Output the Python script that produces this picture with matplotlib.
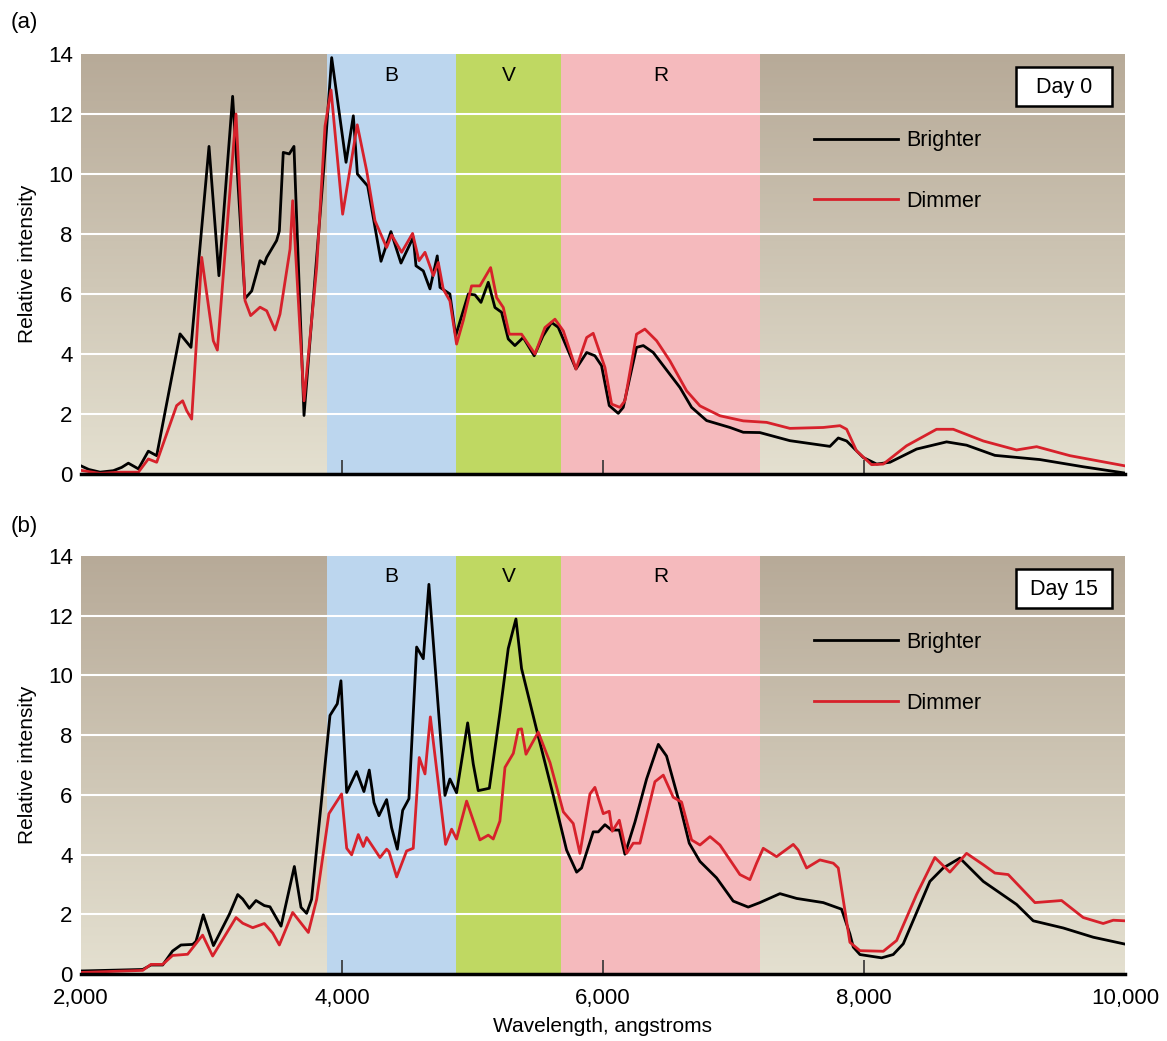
import numpy as np
import matplotlib
matplotlib.use("Agg")
import matplotlib.pyplot as plt
from matplotlib.colors import LinearSegmentedColormap
from matplotlib.patches import Rectangle

plt.rcParams['font.family'] = ['Liberation Sans', 'DejaVu Sans']

# photometric bands (angstroms)
bands = ["B", "V", "R"]
band_edges = [(3885, 4874), (4874, 5678), (5678, 7203)]
band_colors = ["#bcd6ee", "#bfd862", "#f5babd"]

# Day 0 spectra (wavelength, relative intensity)
day0_bright = [
    (2000, 0.27), (2060, 0.15), (2146, 0.06), (2248, 0.11), (2312, 0.22), (2363, 0.36),
    (2440, 0.17), (2516, 0.76), (2580, 0.61), (2759, 4.67), (2843, 4.22), (2981, 10.92),
    (3057, 6.61), (3162, 12.59), (3257, 5.85), (3308, 6.1), (3372, 7.11), (3405, 7.0),
    (3423, 7.22), (3499, 7.78), (3520, 8.1), (3550, 10.72), (3596, 10.67), (3632, 10.92),
    (3709, 1.95), (3857, 10.0), (3921, 13.88), (4031, 10.39), (4087, 11.94), (4118, 10.0),
    (4197, 9.6), (4299, 7.09), (4375, 8.08), (4452, 7.03), (4546, 7.89), (4567, 6.94),
    (4623, 6.77), (4674, 6.17), (4730, 7.27), (4751, 6.22), (4827, 6.0), (4871, 4.61),
    (4968, 6.0), (5019, 5.97), (5065, 5.72), (5121, 6.39), (5172, 5.55), (5223, 5.39),
    (5274, 4.5), (5325, 4.28), (5389, 4.55), (5473, 3.94), (5540, 4.6), (5606, 5.05),
    (5657, 4.89), (5793, 3.5), (5875, 4.05), (5938, 3.94), (5989, 3.61), (6048, 2.28),
    (6117, 2.02), (6155, 2.22), (6257, 4.22), (6309, 4.28), (6385, 4.05), (6590, 2.88),
    (6679, 2.22), (6794, 1.78), (6973, 1.55), (7075, 1.39), (7202, 1.38), (7432, 1.11),
    (7739, 0.92), (7803, 1.2), (7867, 1.1), (7994, 0.55), (8097, 0.33), (8199, 0.39),
    (8403, 0.83), (8633, 1.07), (8786, 0.96), (9003, 0.62), (9348, 0.48), (9680, 0.24),
    (10000, 0.03),
]
day0_dim = [
    (2000, 0.12), (2146, 0.02), (2300, 0.06), (2440, 0.06), (2516, 0.5), (2580, 0.39),
    (2733, 2.28), (2779, 2.44), (2810, 2.11), (2848, 1.83), (2925, 7.22), (3014, 4.44),
    (3045, 4.13), (3188, 12.0), (3257, 5.78), (3300, 5.28), (3372, 5.56), (3423, 5.44),
    (3487, 4.8), (3525, 5.33), (3602, 7.5), (3622, 9.11), (3709, 2.44), (3806, 6.89),
    (3870, 11.6), (3916, 12.8), (4005, 8.66), (4117, 11.64), (4189, 10.11), (4253, 8.44),
    (4342, 7.55), (4380, 7.97), (4457, 7.39), (4541, 8.02), (4590, 7.11), (4636, 7.39),
    (4700, 6.61), (4738, 7.05), (4776, 6.16), (4827, 5.77), (4878, 4.33), (4929, 5.11),
    (4993, 6.27), (5057, 6.27), (5139, 6.88), (5185, 5.88), (5236, 5.55), (5282, 4.66),
    (5376, 4.66), (5479, 4.0), (5555, 4.88), (5632, 5.16), (5696, 4.77), (5793, 3.5),
    (5875, 4.55), (5925, 4.69), (6015, 3.55), (6066, 2.33), (6130, 2.22), (6168, 2.44),
    (6257, 4.66), (6321, 4.83), (6411, 4.44), (6513, 3.77), (6641, 2.77), (6743, 2.27),
    (6896, 1.94), (7075, 1.77), (7254, 1.72), (7432, 1.52), (7688, 1.55), (7816, 1.61),
    (7867, 1.49), (7943, 0.77), (8058, 0.31), (8148, 0.33), (8326, 0.94), (8556, 1.49),
    (8684, 1.49), (8914, 1.1), (9169, 0.8), (9323, 0.91), (9578, 0.61), (10000, 0.27),
]

# Day 15 spectra
day15_bright = [
    (2000, 0.1), (2473, 0.15), (2536, 0.3), (2626, 0.3), (2702, 0.77), (2766, 0.97),
    (2856, 0.99), (2881, 1.09), (2937, 1.98), (3015, 0.95), (3137, 2.0), (3201, 2.66),
    (3239, 2.51), (3290, 2.2), (3341, 2.46), (3405, 2.29), (3448, 2.25), (3533, 1.6),
    (3635, 3.6), (3686, 2.23), (3729, 2.03), (3767, 2.5), (3908, 8.66), (3964, 9.05),
    (3992, 9.82), (4036, 6.08), (4112, 6.78), (4168, 6.11), (4209, 6.83), (4245, 5.74),
    (4283, 5.3), (4342, 5.84), (4380, 4.9), (4424, 4.18), (4465, 5.48), (4513, 5.87),
    (4572, 10.95), (4623, 10.56), (4666, 13.05), (4789, 5.98), (4827, 6.53), (4878, 6.07),
    (4963, 8.41), (5006, 7.03), (5044, 6.14), (5129, 6.22), (5210, 8.74), (5274, 10.9),
    (5333, 11.89), (5376, 10.23), (5491, 8.19), (5619, 5.98), (5721, 4.15), (5798, 3.41),
    (5836, 3.55), (5925, 4.76), (5964, 4.76), (6015, 5.0), (6066, 4.82), (6125, 4.82),
    (6168, 4.01), (6245, 5.09), (6334, 6.53), (6424, 7.69), (6487, 7.3), (6577, 5.87),
    (6661, 4.38), (6743, 3.77), (6870, 3.22), (6998, 2.44), (7113, 2.24), (7202, 2.39),
    (7356, 2.69), (7484, 2.53), (7688, 2.39), (7828, 2.17), (7892, 1.34), (7918, 0.9),
    (7969, 0.65), (8135, 0.54), (8224, 0.65), (8301, 1.01), (8505, 3.1), (8607, 3.55),
    (8735, 3.88), (8914, 3.1), (9169, 2.33), (9297, 1.78), (9527, 1.54), (9757, 1.23),
    (10000, 1.0),
]
day15_dim = [
    (2000, 0.05), (2473, 0.12), (2536, 0.32), (2626, 0.32), (2702, 0.62), (2817, 0.66),
    (2932, 1.3), (3009, 0.6), (3188, 1.89), (3239, 1.7), (3316, 1.55), (3405, 1.69),
    (3469, 1.37), (3520, 0.97), (3622, 2.06), (3742, 1.39), (3806, 2.5), (3900, 5.37),
    (3997, 6.03), (4036, 4.21), (4074, 3.99), (4125, 4.67), (4163, 4.27), (4189, 4.57),
    (4291, 3.9), (4342, 4.18), (4360, 4.1), (4419, 3.25), (4495, 4.12), (4546, 4.21),
    (4592, 7.25), (4636, 6.7), (4677, 8.61), (4794, 4.34), (4840, 4.85), (4878, 4.52),
    (4955, 5.79), (5057, 4.49), (5121, 4.65), (5159, 4.52), (5210, 5.12), (5249, 6.92),
    (5313, 7.39), (5351, 8.19), (5376, 8.21), (5410, 7.36), (5504, 8.1), (5594, 7.08),
    (5696, 5.43), (5772, 5.04), (5823, 4.04), (5900, 6.03), (5938, 6.25), (6002, 5.37),
    (6048, 5.45), (6071, 4.78), (6125, 5.15), (6181, 4.04), (6232, 4.38), (6283, 4.38),
    (6398, 6.44), (6462, 6.66), (6538, 5.92), (6602, 5.76), (6679, 4.49), (6743, 4.32),
    (6820, 4.6), (6896, 4.32), (7049, 3.33), (7126, 3.16), (7177, 3.71), (7228, 4.21),
    (7330, 3.93), (7458, 4.34), (7496, 4.15), (7560, 3.55), (7662, 3.82), (7765, 3.71),
    (7803, 3.55), (7892, 1.06), (7969, 0.78), (8148, 0.76), (8250, 1.12), (8403, 2.66),
    (8543, 3.9), (8658, 3.41), (8786, 4.04), (8914, 3.66), (9003, 3.38), (9105, 3.33),
    (9310, 2.39), (9514, 2.46), (9680, 1.89), (9833, 1.69), (9910, 1.8), (10000, 1.78),
]

panels = [("(a)", "Day 0", day0_bright, day0_dim),
          ("(b)", "Day 15", day15_bright, day15_dim)]
xticks = [2000, 4000, 6000, 8000, 10000]
yticks = [0, 2, 4, 6, 8, 10, 12, 14]

bg = LinearSegmentedColormap.from_list("bg", ["#e4e0d0", "#b7aa98"])

fig = plt.figure(figsize=(11.67, 10.41), dpi=100)
axes = [fig.add_axes([0.0694, 0.5447, 0.8946, 0.4034]),
        fig.add_axes([0.0694, 0.0644, 0.8946, 0.4015])]

for ax, (tag, day, bright, dim) in zip(axes, panels):
    ax.imshow(np.linspace(0, 1, 256).reshape(-1, 1), origin="lower", cmap=bg,
              extent=[2000, 10000, 0, 14], aspect="auto", zorder=0)
    for name, (x0, x1), c in zip(bands, band_edges, band_colors):
        ax.axvspan(x0, x1, color=c, lw=0, zorder=1)
        ax.text((x0 + x1) / 2, 13.3, name, ha="center", va="center", fontsize=15, zorder=5)
    for y in yticks[1:-1]:
        ax.axhline(y, color="white", lw=1.5, zorder=2)

    bx, by = zip(*bright)
    dx, dy = zip(*dim)
    ax.plot(bx, by, color="black", lw=2, label="Brighter", zorder=3)
    ax.plot(dx, dy, color="#d7212b", lw=2, label="Dimmer", zorder=4)

    ax.set_xlim(2000, 10000)
    ax.set_ylim(0, 14)
    ax.set_yticks(yticks)
    ax.set_xticks(xticks)
    for s in ["top", "right", "left"]:
        ax.spines[s].set_visible(False)
    ax.spines["bottom"].set_linewidth(2.5)
    ax.spines["bottom"].set_zorder(6)
    ax.tick_params(axis="y", length=0, labelsize=16, pad=6)
    ax.tick_params(axis="x", direction="in", length=10, width=1.2, color="#333333",
                   labelsize=16, pad=10)
    ax.set_ylabel("Relative intensity", fontsize=15, labelpad=8)

    ax.legend(loc="upper left", bbox_to_anchor=(0.684, 0.865), frameon=False,
              fontsize=15.5, handlelength=3.9, handletextpad=0.35, labelspacing=1.85)

    ax.add_patch(Rectangle((0.8956, 0.876), 0.0919, 0.093, transform=ax.transAxes,
                           facecolor="white", edgecolor="black", lw=1.8, zorder=7))
    ax.text(0.9416, 0.921, day, transform=ax.transAxes, ha="center", va="center",
            fontsize=15.5, zorder=8)

    # no tick marks at the two ends of the wavelength axis
    xt = ax.xaxis.get_major_ticks()
    xt[0].tick1line.set_visible(False)
    xt[-1].tick1line.set_visible(False)

axes[0].tick_params(axis="x", labelbottom=False)
axes[1].set_xticklabels([f"{v:,}" for v in xticks])
axes[1].set_xlabel("Wavelength, angstroms", fontsize=15, labelpad=6)

fig.text(0.009, 0.978, "(a)", fontsize=16, ha="left", va="center")
fig.text(0.009, 0.494, "(b)", fontsize=16, ha="left", va="center")

fig.savefig("out.png", dpi=100)
